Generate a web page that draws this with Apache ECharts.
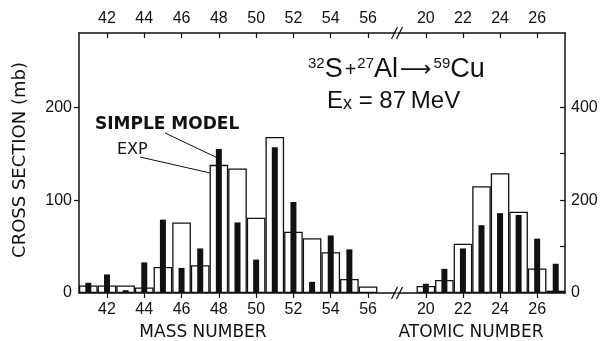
<!DOCTYPE html>
<html>
<head>
<meta charset="utf-8">
<script src="https://cdn.jsdelivr.net/npm/echarts@6/dist/echarts.min.js"></script>
<style>
  html, body { margin: 0; padding: 0; background: #fff; }
  #main { width: 610px; height: 341px; }
</style>
</head>
<body>
<div id="main"></div>
<script>
// mass number panel (left axis, mb)
const massNumbers = ['41','42','43','44','45','46','47','48','49','50','51','52','53','54','55','56','57'];
const massExp     = [8, 8, 8, 6, 28, 76, 30, 138, 134, 81, 168, 66, 59, 44, 15, 7, null];
const massModel   = [11, 20, 3, 33, 79, 27, 48, 155, 76, 36, 157, 98, 12, 62, 47, null, null];

// atomic number panel (right axis, mb)
const atomicNumbers = ['19','20','21','22','23','24','25','26','27'];
const atomicExp     = [null, 15, 28, 106, 230, 258, 175, 53, 5];
const atomicModel   = [null, 20, 52, 96, 146, 172, 168, 117, 63];

const leftTicks = [0, 100, 200];
const rightTicks = [0, 200, 400];

const tickFont = 'Liberation Sans';
const textFont = 'DejaVu Sans';
const BLACK = '#111';

const even = (i, v) => Number(v) % 2 === 0;

function xAx(grid, cats, pos) {
  return {
    type: 'category',
    gridIndex: grid,
    position: pos,
    data: cats,
    boundaryGap: true,
    axisLine: { show: true, lineStyle: { color: BLACK, width: 1.5 } },
    axisTick: { show: true, interval: even, alignWithLabel: true, inside: pos === 'top', length: 5, lineStyle: { color: BLACK, width: 1.2 } },
    axisLabel: { interval: even, color: BLACK, fontFamily: tickFont, fontSize: 16, margin: pos === 'top' ? 6 : 9 },
    splitLine: { show: false }
  };
}

let chart = echarts.init(document.getElementById('main'));

chart.setOption({
  animation: false,
  backgroundColor: '#fff',
  grid: [
    { left: 79, top: 33, width: 317, height: 260 },
    { left: 398, top: 33, width: 167, height: 260 }
  ],
  xAxis: [
    xAx(0, massNumbers, 'bottom'),
    xAx(0, massNumbers, 'top'),
    xAx(1, atomicNumbers, 'bottom'),
    xAx(1, atomicNumbers, 'top')
  ],
  yAxis: [
    {
      type: 'value', gridIndex: 0, position: 'left', min: 0, max: 280, interval: 100,
      axisLine: { show: true, lineStyle: { color: BLACK, width: 1.5 } },
      axisTick: { show: true, customValues: [100, 200], length: 5, lineStyle: { color: BLACK, width: 1.2 } },
      axisLabel: { customValues: leftTicks, color: BLACK, fontFamily: tickFont, fontSize: 16, margin: 7,
        formatter: v => (v % 100 === 0 ? String(v) : '') },
      splitLine: { show: false }
    },
    {
      type: 'value', gridIndex: 1, position: 'right', min: 0, max: 560, interval: 100,
      axisLine: { show: true, lineStyle: { color: BLACK, width: 1.5 } },
      axisTick: { show: true, inside: true, customValues: [100, 200, 300, 400], length: 5, lineStyle: { color: BLACK, width: 1.2 } },
      axisLabel: { customValues: rightTicks, color: BLACK, fontFamily: tickFont, fontSize: 16, margin: 6,
        formatter: v => (v % 200 === 0 ? String(v) : '') },
      splitLine: { show: false }
    }
  ],
  series: [
    {
      name: 'EXP', type: 'bar', xAxisIndex: 0, yAxisIndex: 0, data: massExp,
      barCategoryGap: '0%',
      itemStyle: { color: '#fff', borderColor: BLACK, borderWidth: 1.3 }
    },
    {
      name: 'SIMPLE MODEL', type: 'bar', xAxisIndex: 1, yAxisIndex: 0, data: massModel,
      barWidth: 6, itemStyle: { color: BLACK }
    },
    {
      name: 'EXP', type: 'bar', xAxisIndex: 2, yAxisIndex: 1, data: atomicExp,
      barCategoryGap: '0%',
      itemStyle: { color: '#fff', borderColor: BLACK, borderWidth: 1.3 }
    },
    {
      name: 'SIMPLE MODEL', type: 'bar', xAxisIndex: 3, yAxisIndex: 1, data: atomicModel,
      barWidth: 6, itemStyle: { color: BLACK }
    }
  ]
});

// пометки и подписи поверх графика
let i48 = massNumbers.indexOf('48');
let modelTop = chart.convertToPixel({ xAxisIndex: 1, yAxisIndex: 0 }, ['48', massModel[i48]]);
let expTop = chart.convertToPixel({ xAxisIndex: 0, yAxisIndex: 0 }, ['48', massExp[i48]]);
let p49 = chart.convertToPixel({ xAxisIndex: 0, yAxisIndex: 0 }, ['49', 0]);
let halfSlot = (p49[0] - expTop[0]) / 2;

let breakX = 397;
let breakMarks = [];
[33, 293].forEach(y => {
  [-2.5, 2.5].forEach(dx => {
    breakMarks.push({
      type: 'line', z: 100,
      shape: { x1: breakX + dx - 3, y1: y + 6, x2: breakX + dx + 3, y2: y - 6 },
      style: { stroke: BLACK, lineWidth: 1.2 }
    });
  });
});

chart.setOption({
  graphic: [
    {
      type: 'text', x: 20, y: 160, rotation: Math.PI / 2,
      style: { text: 'CROSS SECTION (mb)', fill: BLACK, font: '18px "' + textFont + '"', align: 'center', verticalAlign: 'middle' }
    },
    {
      type: 'text', x: 203, y: 333,
      style: { text: 'MASS NUMBER', fill: BLACK, font: '17px "' + textFont + '"', align: 'center', verticalAlign: 'middle' }
    },
    {
      type: 'text', x: 471, y: 333,
      style: { text: 'ATOMIC NUMBER', fill: BLACK, font: '17px "' + textFont + '"', align: 'center', verticalAlign: 'middle' }
    },
    {
      type: 'text', x: 95, y: 125,
      style: { text: 'SIMPLE MODEL', fill: BLACK, font: 'bold 17px "' + textFont + '"', align: 'left', verticalAlign: 'middle' }
    },
    {
      type: 'text', x: 117, y: 150,
      style: { text: 'EXP', fill: BLACK, font: '16px "' + textFont + '"', align: 'left', verticalAlign: 'middle' }
    },
    {
      type: 'line',
      shape: { x1: 165, y1: 133, x2: modelTop[0] - 1, y2: modelTop[1] + 9 },
      style: { stroke: BLACK, lineWidth: 1 }
    },
    {
      type: 'line',
      shape: { x1: 140, y1: 157, x2: expTop[0] - halfSlot, y2: expTop[1] + 8 },
      style: { stroke: BLACK, lineWidth: 1 }
    },
    {
      type: 'text', x: 308, y: 70,
      style: {
        text: '{sup|32}{m|S}{op|+}{sup|27}{m|Al}{arr|⟶}{sup|59}{m|Cu}',
        align: 'left', verticalAlign: 'middle',
        rich: {
          m: { fontSize: 27, fontFamily: tickFont, fill: BLACK },
          op: { fontSize: 20, fontFamily: tickFont, fill: BLACK, padding: [0, 1, 0, 2] },
          sup: { fontSize: 15, fontFamily: tickFont, fill: BLACK, verticalAlign: 'top' },
          arr: { fontSize: 22, fontFamily: textFont, fill: BLACK, padding: [0, 2, 0, 2] }
        }
      }
    },
    {
      type: 'text', x: 327, y: 101,
      style: {
        text: '{m|E}{sub|x}{m| = 87\u2009MeV}',
        align: 'left', verticalAlign: 'middle',
        rich: {
          m: { fontSize: 24, fontFamily: tickFont, fill: BLACK },
          sub: { fontSize: 18, fontFamily: tickFont, fill: BLACK, verticalAlign: 'bottom' }
        }
      }
    }
  ].concat(breakMarks)
});
</script>
</body>
</html>
